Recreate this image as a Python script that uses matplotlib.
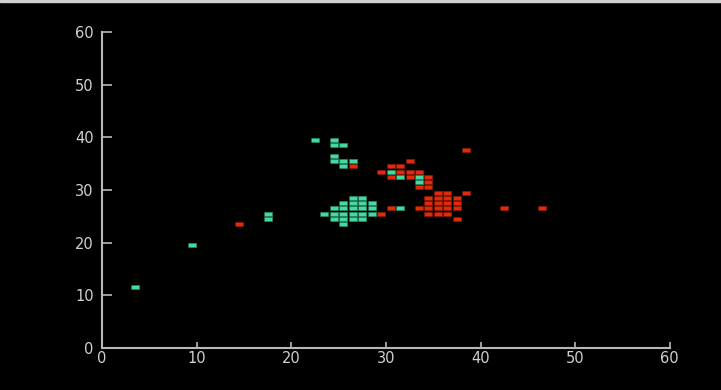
import matplotlib
matplotlib.use("Agg")
import matplotlib.pyplot as plt
from matplotlib.patches import Rectangle

# cluster A (teal)
teal_x = [3.5, 9.5, 17.5, 17.5,
          22.5, 24.5, 24.5, 25.5, 24.5, 24.5, 25.5, 26.5, 25.5,
          26.5, 27.5,
          25.5, 26.5, 27.5, 28.5,
          24.5, 25.5, 26.5, 27.5, 28.5,
          23.5, 24.5, 25.5, 26.5, 27.5, 28.5,
          24.5, 25.5, 26.5, 27.5,
          25.5,
          31.5, 30.5, 31.5, 33.5, 33.5]
teal_y = [11.5, 19.5, 25.5, 24.5,
          39.5, 39.5, 38.5, 38.5, 36.5, 35.5, 35.5, 35.5, 34.5,
          28.5, 28.5,
          27.5, 27.5, 27.5, 27.5,
          26.5, 26.5, 26.5, 26.5, 26.5,
          25.5, 25.5, 25.5, 25.5, 25.5, 25.5,
          24.5, 24.5, 24.5, 24.5,
          23.5,
          26.5, 33.5, 32.5, 32.5, 31.5]

# cluster B (red)
red_x = [14.5, 26.5, 29.5, 30.5,
         38.5, 32.5, 30.5, 31.5,
         29.5, 31.5, 32.5, 33.5,
         30.5, 32.5, 34.5,
         34.5,
         33.5, 34.5,
         35.5, 36.5, 38.5,
         34.5, 35.5, 36.5, 37.5,
         34.5, 35.5, 36.5, 37.5,
         33.5, 34.5, 35.5, 36.5, 37.5, 42.5, 46.5,
         34.5, 35.5, 36.5,
         37.5]
red_y = [23.5, 34.5, 25.5, 26.5,
         37.5, 35.5, 34.5, 34.5,
         33.5, 33.5, 33.5, 33.5,
         32.5, 32.5, 32.5,
         31.5,
         30.5, 30.5,
         29.5, 29.5, 29.5,
         28.5, 28.5, 28.5, 28.5,
         27.5, 27.5, 27.5, 27.5,
         26.5, 26.5, 26.5, 26.5, 26.5, 26.5, 26.5,
         25.5, 25.5, 25.5,
         24.5]

ticks = [0, 10, 20, 30, 40, 50, 60]

fig = plt.figure(figsize=(7.21, 3.90), dpi=100, facecolor="black")
ax = fig.add_axes([0.1415, 0.1077, 0.7875, 0.8103])
ax.set_facecolor("black")

# flat rectangular marker, a little smaller than one data cell
cell = [(-1, -0.6), (1, -0.6), (1, 0.6), (-1, 0.6)]
ax.scatter(red_x, red_y, marker=cell, s=34, c="#e02a08",
           edgecolors="#8a1a06", linewidths=0.5, zorder=3)
ax.scatter(teal_x, teal_y, marker=cell, s=34, c="#45d9a0",
           edgecolors="#2a8a66", linewidths=0.5, zorder=4)

ax.set_xlim(0, 60)
ax.set_ylim(0, 60)
ax.set_xticks(ticks)
ax.set_yticks(ticks)

for side in ["top", "right"]:
    ax.spines[side].set_visible(False)
for side in ["left", "bottom"]:
    ax.spines[side].set_color("#b8b8b8")
    ax.spines[side].set_linewidth(1.5)

ax.tick_params(axis="both", direction="in", colors="#b8b8b8",
               labelcolor="#d0d0d0", labelsize=10.5, width=1.2)
ax.tick_params(axis="y", length=7, pad=6)
ax.tick_params(axis="x", length=4, pad=2)

# thin light strip along the top of the window
fig.patches.append(Rectangle((0, 0.994), 1, 0.006, transform=fig.transFigure,
                             color="#d0d0d0", zorder=0))

fig.savefig("out.png", dpi=100, facecolor="black")
